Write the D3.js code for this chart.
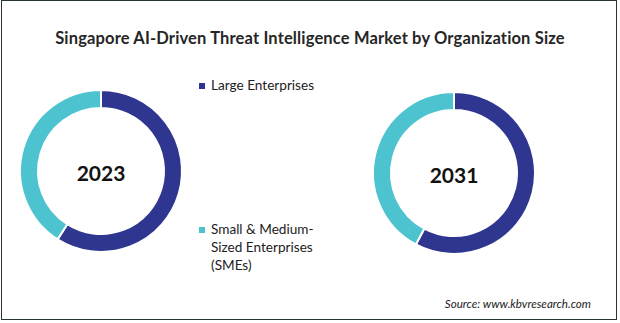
<!DOCTYPE html>
<html>
<head>
<meta charset="utf-8">
<script src="https://cdn.jsdelivr.net/npm/d3@7"></script>
<style>
  body { margin: 0; background: #fff; }
  svg text { font-family: Lato, "Open Sans", sans-serif; }
</style>
</head>
<body>
<div id="chart"></div>
<script>
// Organization size share, percent, per year
const YEARS = ["2023", "2031"]
const SEGMENTS = ["Large Enterprises", "Small & Medium-Sized Enterprises (SMEs)"]
const LARGE_SHARE = [59.0, 57.8]
const SME_SHARE = [41.0, 42.2]
const LEGEND_LINES = [["Large Enterprises"], ["Small & Medium-", "Sized Enterprises", "(SMEs)"]]

const WIDTH = 620
const HEIGHT = 323
const OUTER_R = 81
const INNER_R = 63
const DONUT_CENTERS = [{x: 101, y: 171}, {x: 454, y: 173}]
const COLORS = ["#2e3690", "#4dc3cf"]

const svg = d3.select("#chart")
  .append("svg")
    .attr("width", WIDTH)
    .attr("height", HEIGHT)

// thin frame round the whole chart
svg.append("rect")
  .attr("x", 1.5).attr("y", 0.5)
  .attr("width", 615).attr("height", 319)
  .attr("fill", "none")
  .attr("stroke", "#2a3636")
  .attr("stroke-width", 1)

svg.append("text")
  .attr("x", 310)
  .attr("y", 44)
  .attr("text-anchor", "middle")
  .attr("font-size", 16.5)
  .attr("font-weight", "bold")
  .attr("letter-spacing", 0.15)
  .attr("fill", "#262626")
  .text("Singapore AI-Driven Threat Intelligence Market by Organization Size")

const color = d3.scaleOrdinal().domain(SEGMENTS).range(COLORS)

const pie = d3.pie()
  .sort(null)
  .value(d => d.value)

const arc = d3.arc()
  .innerRadius(INNER_R)
  .outerRadius(OUTER_R)

YEARS.forEach((year, i) => {
  const slices = [
    {key: SEGMENTS[0], value: LARGE_SHARE[i]},
    {key: SEGMENTS[1], value: SME_SHARE[i]}
  ]
  const g = svg.append("g")
    .attr("transform", "translate(" + DONUT_CENTERS[i].x + "," + DONUT_CENTERS[i].y + ")")

  g.selectAll("path")
    .data(pie(slices))
    .enter()
    .append("path")
      .attr("d", arc)
      .attr("fill", d => color(d.data.key))
      .attr("stroke", "#fff")
      .attr("stroke-width", 2)

  g.append("text")
    .attr("text-anchor", "middle")
    .attr("y", 10)
    .attr("font-size", 21)
    .attr("font-weight", "bold")
    .attr("fill", "#111")
    .text(year)
})

// legend sits between the two donuts
const LEGEND_TOP = [90, 234]
const legend = svg.selectAll(".legend-item")
  .data(SEGMENTS)
  .enter()
  .append("g")
    .attr("class", "legend-item")
    .attr("transform", (d, i) => "translate(199," + LEGEND_TOP[i] + ")")

legend.append("rect")
  .attr("x", 0)
  .attr("y", -7)
  .attr("width", 6)
  .attr("height", 6)
  .attr("fill", d => color(d))

legend.append("text")
  .attr("x", 12)
  .attr("font-size", 13.6)
  .attr("fill", "#222")
  .selectAll("tspan")
  .data((d, i) => LEGEND_LINES[i])
  .enter()
  .append("tspan")
    .attr("x", 12)
    .attr("dy", (d, i) => i === 0 ? 0 : 18)
    .text(d => d)

svg.append("text")
  .attr("x", 591)
  .attr("y", 308)
  .attr("text-anchor", "end")
  .attr("font-size", 11.6)
  .attr("font-style", "italic")
  .attr("fill", "#222")
  .text("Source: www.kbvresearch.com")
</script>
</body>
</html>
